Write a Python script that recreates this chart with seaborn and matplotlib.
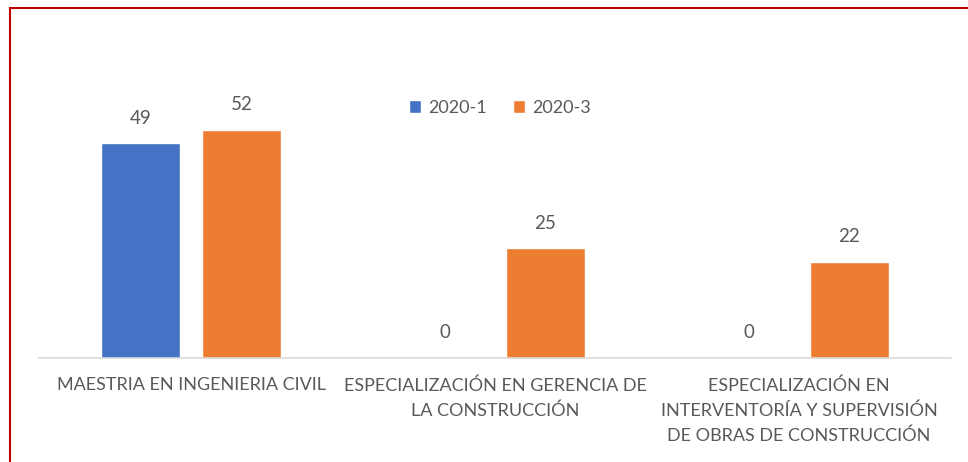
import pandas as pd
import seaborn as sns
import matplotlib.pyplot as plt
from matplotlib.patches import Rectangle

# ------------------------------------------------------------------
# Data
# ------------------------------------------------------------------
programs = [
    'MAESTRIA EN INGENIERIA CIVIL',
    'ESPECIALIZACIÓN EN GERENCIA DE\nLA CONSTRUCCIÓN',
    'ESPECIALIZACIÓN EN\nINTERVENTORÍA Y SUPERVISIÓN\nDE OBRAS DE CONSTRUCCIÓN',
]
periods = ['2020-1', '2020-3']
values_2020_1 = [49, 0, 0]
values_2020_3 = [52, 25, 22]
colors = ['#4472C4', '#ED7D31']

df = pd.DataFrame({
    'program': programs * 2,
    'period': [periods[0]] * 3 + [periods[1]] * 3,
    'value': values_2020_1 + values_2020_3,
})

sns.set_theme(style='white')
plt.rcParams['font.family'] = ['Lato', 'DejaVu Sans']
text_color = '#595959'

fig = plt.figure(figsize=(9.68, 4.62), dpi=100)
ax = fig.add_axes([0.0403, 0.2251, 0.9421, 0.5693])

sns.barplot(data=df, x='program', y='value', hue='period', palette=colors,
            width=0.664, gap=0.21, ax=ax, saturation=1)

ax.set_ylim(0, 60)
ax.set_xlim(-0.5, 2.5)
for c in ax.containers:
    ax.bar_label(c, padding=12, fontsize=13.5, color=text_color)

ax.set_xlabel('')
ax.set_ylabel('')
ax.set_yticks([])
ax.tick_params(axis='x', length=0, labelsize=13, labelcolor=text_color, pad=14)
for lbl in ax.get_xticklabels():
    lbl.set_linespacing(1.64)
    lbl.set_verticalalignment('top')
for s in ['top', 'right', 'left']:
    ax.spines[s].set_visible(False)
ax.spines['bottom'].set_color('#D9D9D9')
ax.spines['bottom'].set_linewidth(1.2)

leg = ax.legend(loc='center', bbox_to_anchor=(500 / 968, 1 - 108 / 462),
                bbox_transform=fig.transFigure, ncol=2, frameon=False,
                fontsize=13, handlelength=0.7, handleheight=0.7,
                handletextpad=0.4, columnspacing=1.4)
for t in leg.get_texts():
    t.set_color(text_color)

# red frame (left and top edges visible in the original)
fig.patches.append(Rectangle((10 / 968, -0.1), 2, 1.1 - 8 / 462,
                             transform=fig.transFigure, fill=False,
                             edgecolor='#C00000', linewidth=1.5))

fig.savefig('out.png', dpi=100)
